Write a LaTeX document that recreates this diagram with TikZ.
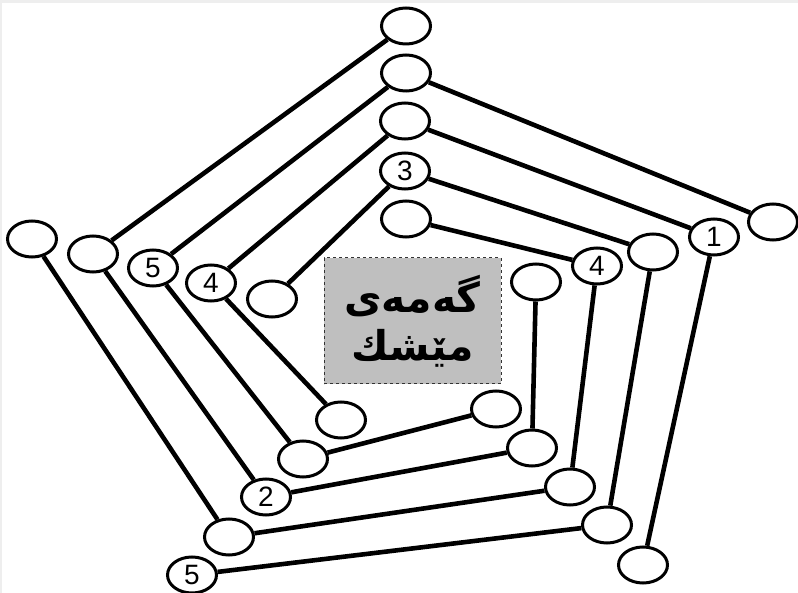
\documentclass[tikz,border=0pt]{standalone}
\usepackage{fontspec}
\setmainfont{Liberation Sans}
\newfontfamily\arabicfont[Script=Arabic]{DejaVu Sans}
\TeXXeTstate=1
\usetikzlibrary{shapes.geometric}
\definecolor{boxgray}{RGB}{191,191,191}
\definecolor{framegray}{RGB}{238,238,238}
\begin{document}
\begin{tikzpicture}[x=1pt,y=-1pt,
  ring/.style={draw, ellipse, line width=3pt, minimum width=49pt, minimum height=36pt,
    inner sep=0pt, fill=white, font=\fontsize{28}{28}\selectfont},
  link/.style={line width=4.6pt}]
\useasboundingbox (0,0) rectangle (798,593);
\fill[framegray] (0,0) rectangle (798,3);
\fill[framegray] (0,0) rectangle (2,593);
% top column
\node[ring] (A1) at (406,26) {};
\node[ring] (A2) at (406,73) {};
\node[ring] (A3) at (405,121) {};
\node[ring] (A4) at (405,171) {3};
\node[ring] (A5) at (406,219) {};
% right
\node[ring] (B1) at (773,222) {};
\node[ring] (B2) at (714,237) {1};
\node[ring] (B3) at (653,252) {};
\node[ring] (B4) at (597,266) {4};
\node[ring] (B5) at (536,282) {};
% left
\node[ring] (C1) at (32,239) {};
\node[ring] (C2) at (93,254) {};
\node[ring] (C3) at (153,268) {5};
\node[ring] (C4) at (211,283) {4};
\node[ring] (C5) at (272,299) {};
% lower left
\node[ring] (D1) at (341,420) {};
\node[ring] (D2) at (303,459) {};
\node[ring] (D3) at (266,497) {2};
\node[ring] (D4) at (229,537) {};
\node[ring] (D5) at (192,575) {5};
% lower right
\node[ring] (E1) at (496,409) {};
\node[ring] (E2) at (532,448) {};
\node[ring] (E3) at (570,487) {};
\node[ring] (E4) at (607,525) {};
\node[ring] (E5) at (643,565) {};
% chains
\draw[link] (C1) -- (D4) -- (E3) -- (B4) -- (A5);
\draw[link] (A1) -- (C2);
\draw[link] (C2) -- (D3);
\draw[link] (D3) -- (E2);
\draw[link] (E2) -- (B5);
\draw[link] (B1) -- (A2);
\draw[link] (A2) -- (C3);
\draw[link] (C3) -- (D2);
\draw[link] (D2) -- (E1);
\draw[link] (E5) -- (B2);
\draw[link] (B2) -- (A3);
\draw[link] (A3) -- (C4);
\draw[link] (C4) -- (D1);
\draw[link] (D5) -- (E4);
\draw[link] (E4) -- (B3);
\draw[link] (B3) -- (A4);
\draw[link] (A4) -- (C5);
% title box
\node[draw=black!80, dashed, line width=1pt, fill=boxgray, minimum width=177pt, minimum height=126pt,
  align=center, inner sep=0pt, font=\arabicfont\bfseries\fontsize{41}{48}\selectfont] (box) at (412.5,321)
  {\beginR گەمەی\endR\\\beginR مێشك\endR};
\end{tikzpicture}
\end{document}
